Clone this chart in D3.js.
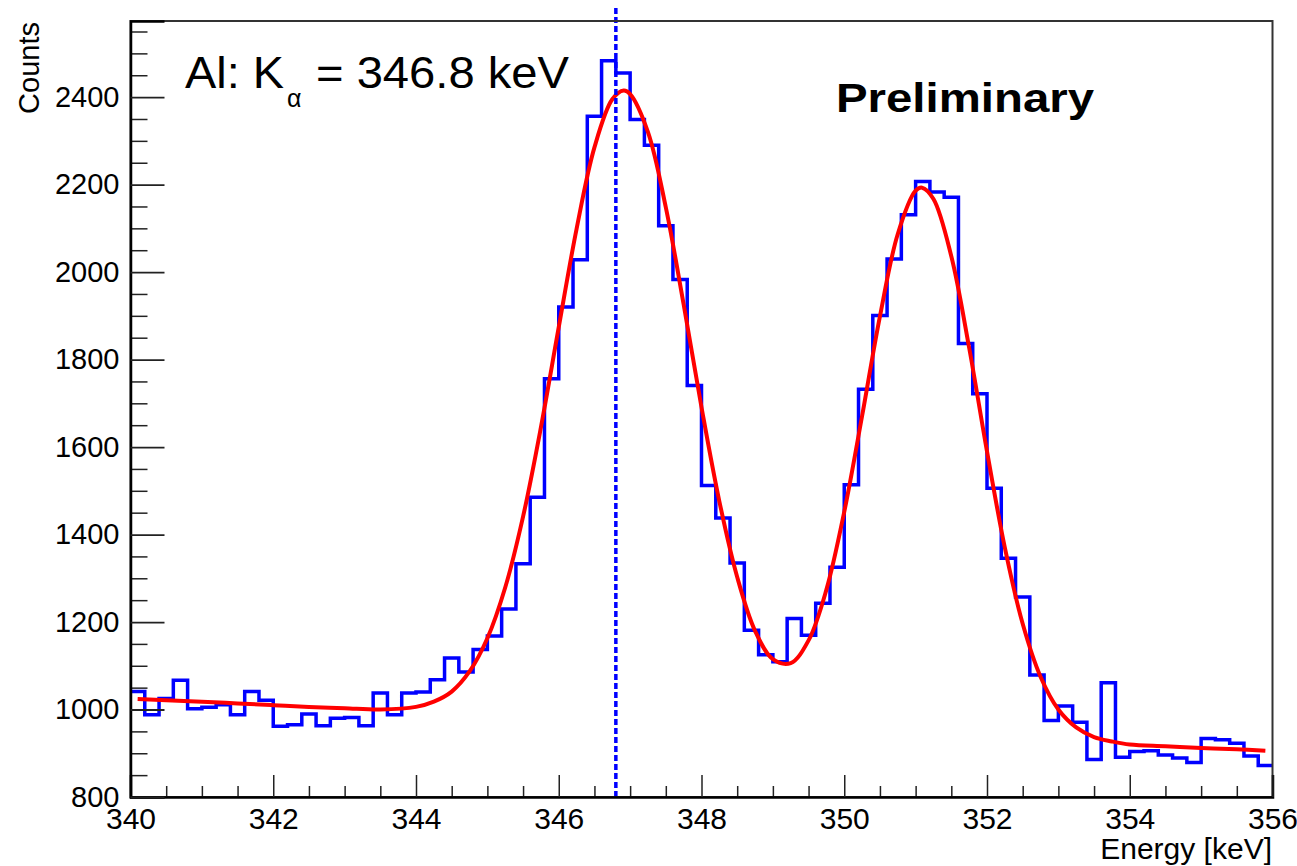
<!DOCTYPE html>
<html>
<head>
<meta charset="utf-8">
<script src="https://cdn.jsdelivr.net/npm/d3@7"></script>
<style>
  body { margin: 0; background: #fff; }
  text { font-family: "Liberation Sans", Arial, sans-serif; }
</style>
</head>
<body>
<div class="chart"></div>
<script>
"use strict";

// histogram: 80 bins of 0.2 keV starting at 340 keV
const binStart = 340;
const binWidth = 0.2;
const counts = [
  1041, 988, 1025, 1067, 1002, 1005, 1011, 988, 1041, 1021,
  962, 965, 990, 963, 980, 982, 963, 1038, 988, 1038,
  1040, 1068, 1118, 1086, 1137, 1168, 1230, 1333, 1485, 1756,
  1920, 2028, 2356, 2483, 2455, 2349, 2290, 2106, 1983, 1741,
  1512, 1438, 1335, 1181, 1125, 1109, 1208, 1170, 1243, 1325,
  1514, 1732, 1901, 2030, 2131, 2207, 2183, 2171, 1837, 1722,
  1506, 1346, 1257, 1079, 975, 1008, 971, 886, 1061, 891,
  904, 906, 896, 889, 879, 934, 931, 923, 894, 872
];

// fit curve
const fitEnergy = [
  340.1, 340.5, 341, 341.5, 342, 342.5, 343, 343.5, 344, 344.25,
  344.5, 344.75, 345, 345.25, 345.5, 345.75, 346, 346.25, 346.5, 346.75,
  346.91, 347, 347.25, 347.5, 347.75, 348, 348.25, 348.5, 348.75, 349,
  349.25, 349.5, 349.75, 350, 350.25, 350.5, 350.75, 351, 351.09, 351.25,
  351.5, 351.75, 352, 352.25, 352.5, 352.75, 353, 353.25, 353.5, 353.75,
  354, 354.5, 355, 355.5, 355.9
];
const fitCounts = [
  1024, 1021, 1018, 1014, 1010, 1006, 1003, 1000, 1006, 1018,
  1041, 1087, 1163, 1279, 1441, 1645, 1874, 2099, 2285, 2395,
  2415, 2407, 2320, 2148, 1926, 1691, 1476, 1303, 1180, 1115,
  1106, 1158, 1274, 1452, 1671, 1899, 2087, 2186, 2193, 2167,
  2036, 1827, 1590, 1370, 1196, 1075, 1000, 959, 937, 927,
  920, 916, 912, 909, 906
];

// K-alpha marker
const markerEnergy = 346.8;
const markerRange = [800, 2605];

// axes
const xDomain = [340, 356];
const yDomain = [800, 2574];
const xMajorTicks = [340, 342, 344, 346, 348, 350, 352, 354, 356];
const yMajorTicks = [800, 1000, 1200, 1400, 1600, 1800, 2000, 2200, 2400];

const W = 1297;
const H = 866;
const plot = { left: 130.5, right: 1272.5, top: 21, bottom: 797 };

const svg = d3
  .select(".chart")
  .append("svg")
  .attr("width", W)
  .attr("height", H);

svg.append("rect").attr("width", W).attr("height", H).attr("fill", "#fff");

const x = d3.scaleLinear().domain(xDomain).range([plot.left, plot.right]);
const y = d3.scaleLinear().domain(yDomain).range([plot.bottom, plot.top]);

// histogram outline
const edges = counts.map((c, i) => [binStart + i * binWidth, c]);
edges.push([binStart + counts.length * binWidth, counts[counts.length - 1]]);

const step = d3
  .line()
  .x((d) => x(d[0]))
  .y((d) => y(d[1]))
  .curve(d3.curveStepAfter);

svg
  .append("path")
  .datum(edges)
  .attr("fill", "none")
  .attr("stroke", "#0000ff")
  .attr("stroke-width", 3.5)
  .attr("d", step);

// fit
const fitLine = d3
  .line()
  .x((d, i) => x(fitEnergy[i]))
  .y((d) => y(d))
  .curve(d3.curveCatmullRom);

svg
  .append("path")
  .datum(fitCounts)
  .attr("fill", "none")
  .attr("stroke", "#ff0000")
  .attr("stroke-width", 4)
  .attr("stroke-linejoin", "round")
  .attr("d", fitLine);

// dashed marker line
svg
  .append("line")
  .attr("x1", x(markerEnergy))
  .attr("x2", x(markerEnergy))
  .attr("y1", y(markerRange[0]))
  .attr("y2", y(markerRange[1]))
  .attr("stroke", "#0000ff")
  .attr("stroke-width", 3.5)
  .attr("stroke-dasharray", "6,3");

// frame
svg
  .append("rect")
  .attr("x", plot.left)
  .attr("y", plot.top)
  .attr("width", plot.right - plot.left)
  .attr("height", plot.bottom - plot.top)
  .attr("fill", "none")
  .attr("stroke", "#333")
  .attr("stroke-width", 2);

// x axis
const xMinor = d3.range(340, 356.01, 0.5).filter((v) => !xMajorTicks.includes(v));

svg
  .append("g")
  .attr("transform", `translate(0,${plot.bottom})`)
  .call(d3.axisBottom(x).tickValues(xMinor).tickSize(-11).tickFormat(""))
  .call((g) => g.select(".domain").remove())
  .call((g) => g.selectAll("line").attr("stroke", "#222").attr("stroke-width", 1.5));

svg
  .append("g")
  .attr("transform", `translate(0,${plot.bottom})`)
  .call(d3.axisBottom(x).tickValues(xMajorTicks).tickSize(-22).tickPadding(11).tickFormat(d3.format("d")))
  .call((g) => g.select(".domain").attr("stroke", "#000").attr("stroke-width", 2.5))
  .call((g) => g.selectAll("line").attr("stroke", "#222").attr("stroke-width", 1.5))
  .call((g) =>
    g.selectAll("text")
      .attr("font-size", 30)
      .attr("font-family", "Liberation Sans, Arial, sans-serif")
      .attr("fill", "#000")
  );

// y axis
const yMinor = d3.range(800, 2574, 50).filter((v) => !yMajorTicks.includes(v));

svg
  .append("g")
  .attr("transform", `translate(${plot.left},0)`)
  .call(d3.axisLeft(y).tickValues(yMinor).tickSize(-17).tickFormat(""))
  .call((g) => g.select(".domain").remove())
  .call((g) => g.selectAll("line").attr("stroke", "#222").attr("stroke-width", 1.5));

svg
  .append("g")
  .attr("transform", `translate(${plot.left},0)`)
  .call(d3.axisLeft(y).tickValues(yMajorTicks).tickSize(-34).tickPadding(11).tickFormat(d3.format("d")))
  .call((g) => g.select(".domain").attr("stroke", "#000").attr("stroke-width", 2.5))
  .call((g) => g.selectAll("line").attr("stroke", "#222").attr("stroke-width", 1.8))
  .call((g) =>
    g.selectAll("text")
      .attr("font-size", 29)
      .attr("font-family", "Liberation Sans, Arial, sans-serif")
      .attr("fill", "#000")
  );

// axis titles
svg
  .append("text")
  .attr("x", 1272)
  .attr("y", 859)
  .attr("text-anchor", "end")
  .attr("font-size", 30)
  .text("Energy [keV]");

svg
  .append("text")
  .attr("transform", "translate(39,22) rotate(-90)")
  .attr("text-anchor", "end")
  .attr("font-size", 29)
  .text("Counts");

// annotations
svg
  .append("text")
  .attr("x", 185)
  .attr("y", 88)
  .attr("font-size", 45)
  .attr("textLength", 99)
  .attr("lengthAdjust", "spacingAndGlyphs")
  .text("Al: K");

svg
  .append("text")
  .attr("x", 287)
  .attr("y", 107)
  .attr("font-size", 25)
  .text("α");

svg
  .append("text")
  .attr("x", 316)
  .attr("y", 88)
  .attr("font-size", 45)
  .attr("textLength", 253)
  .attr("lengthAdjust", "spacingAndGlyphs")
  .text("= 346.8 keV");

svg
  .append("text")
  .attr("x", 836)
  .attr("y", 112)
  .attr("font-size", 41)
  .attr("font-weight", "bold")
  .attr("textLength", 258)
  .attr("lengthAdjust", "spacingAndGlyphs")
  .text("Preliminary");
</script>
</body>
</html>
